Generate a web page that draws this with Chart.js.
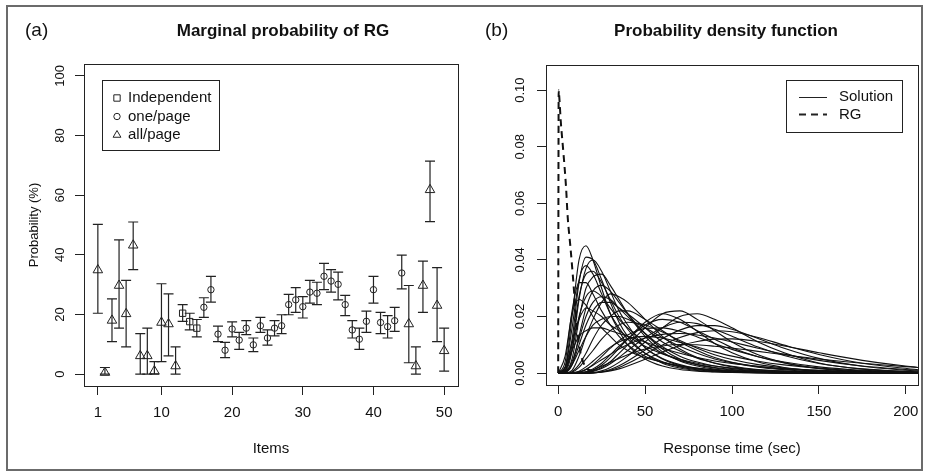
<!DOCTYPE html>
<html>
<head>
<meta charset="utf-8">
<script src="https://cdn.jsdelivr.net/npm/chart.js@4.4.1/dist/chart.umd.min.js"></script>
<style>
  body { margin: 0; background: #fff; }
  #page { position: relative; width: 929px; height: 474px; overflow: hidden; }
  #frame { position: absolute; left: 6px; top: 5px; width: 913px; height: 462px; border: 2px solid #6b6b6b; }
  canvas { position: absolute; top: 0; }
</style>
</head>
<body>
<div id="page">
  <div id="frame"></div>
  <canvas id="chartA" width="470" height="474" style="left:0"></canvas>
  <canvas id="chartB" width="459" height="474" style="left:470px"></canvas>
</div>
<script>
// ---- panel (a): marginal probability of RG per item ----
const itemTicks = [1, 10, 20, 30, 40, 50];
const probTicks = [0, 20, 40, 60, 80, 100];
// a = all/page, i = independent, o = one/page
const design = ('aaaaaaaaaaaa' + 'iii' + 'ooooooooooooooooooooooooooooo' + 'aaaaaa').split('');
const prob = [34.9, 0.5, 18, 29.7, 20.2, 43.2, 6.1, 6.1, 1, 17.3,
              16.8, 2.7, 20.4, 17.6, 15.4, 22.4, 28.3, 13.4, 8.0, 15.1,
              11.4, 15.4, 9.8, 16.2, 12.1, 15.4, 16.2, 23.3, 24.9, 22.6,
              27.5, 27.1, 32.8, 31.2, 30.1, 23.3, 14.8, 11.7, 17.7, 28.3,
              17.3, 15.9, 17.9, 33.9, 16.8, 2.7, 29.7, 61.8, 23, 7.8];
const lower = [20.4, 0, 10.9, 15.4, 9.1, 35, 0, 0, 0, 4.2,
               6.1, 0, 17.7, 14.8, 12.5, 19, 24.1, 10.9, 5.5, 12.5,
               8.3, 13.2, 7.5, 14, 9.7, 12.8, 13.6, 19.9, 20.7, 18.8,
               23.8, 23.3, 28.3, 27.5, 24.9, 19.6, 12.1, 8.3, 14, 23.8,
               13.6, 12.1, 14.3, 28.6, 3.8, 0, 20.7, 51.1, 10.9, 1];
const upper = [50.2, 2.2, 25.2, 45, 31.4, 51, 13.6, 15.4, 4.2, 30.3,
               26.9, 9.1, 23.3, 20.4, 18.3, 25.6, 32.8, 16.1, 10.6, 17.5,
               14, 17.9, 12.1, 19, 14.8, 17.9, 19.9, 26.7, 29, 26,
               31.4, 30.8, 37.1, 35, 34.2, 26.4, 17.9, 15.4, 21.1, 32.8,
               20.7, 19.6, 22.4, 39.9, 29.7, 9.1, 37.9, 71.4, 35.7, 15.4];
const items = prob.map((_, i) => i + 1);
const designLabels = ['Independent', 'one/page', 'all/page'];

// ---- panel (b): probability density functions ----
const timeTicks = [0, 50, 100, 150, 200];
const densTicks = [0, 0.02, 0.04, 0.06, 0.08, 0.10];
const timeGrid = [0, 4, 8, 12, 16, 20, 25, 30, 35, 40, 50, 60, 70, 80, 90, 100, 115, 130, 150, 175, 207];
const earlyCurves = [
  [0, 0.002, 0.020, 0.040, 0.045, 0.040, 0.030, 0.021, 0.015, 0.010, 0.005, 0.0025, 0.0013, 0.0007, 0.0004, 0.0002, 0.0001, 0, 0, 0, 0],
  [0, 0.001, 0.012, 0.032, 0.041, 0.040, 0.033, 0.025, 0.018, 0.013, 0.007, 0.0035, 0.0018, 0.0009, 0.0005, 0.0003, 0.0001, 0, 0, 0, 0],
  [0, 0.0005, 0.008, 0.026, 0.037, 0.040, 0.036, 0.029, 0.022, 0.017, 0.009, 0.005, 0.0027, 0.0015, 0.0008, 0.0004, 0.0002, 0.0001, 0, 0, 0],
  [0, 0.002, 0.016, 0.033, 0.038, 0.035, 0.028, 0.021, 0.016, 0.012, 0.007, 0.004, 0.0022, 0.0012, 0.0007, 0.0004, 0.0002, 0.0001, 0, 0, 0],
  [0, 0.0003, 0.005, 0.019, 0.030, 0.034, 0.035, 0.031, 0.026, 0.021, 0.013, 0.0075, 0.0043, 0.0025, 0.0014, 0.0008, 0.0004, 0.0002, 0.0001, 0, 0],
  [0, 0.004, 0.022, 0.032, 0.032, 0.028, 0.022, 0.017, 0.013, 0.010, 0.006, 0.0038, 0.0024, 0.0015, 0.001, 0.0006, 0.0003, 0.0002, 0.0001, 0, 0],
  [0, 0.0002, 0.003, 0.013, 0.023, 0.029, 0.031, 0.029, 0.025, 0.021, 0.014, 0.0085, 0.005, 0.003, 0.0018, 0.0011, 0.0005, 0.0003, 0.0001, 0, 0],
  [0, 0.001, 0.008, 0.020, 0.027, 0.029, 0.027, 0.023, 0.019, 0.016, 0.011, 0.007, 0.0045, 0.003, 0.002, 0.0013, 0.0007, 0.0004, 0.0002, 0.0001, 0],
  [0, 0.0001, 0.001, 0.006, 0.013, 0.019, 0.025, 0.028, 0.027, 0.025, 0.019, 0.013, 0.0085, 0.0055, 0.0035, 0.0022, 0.0011, 0.0006, 0.0002, 0.0001, 0],
  [0, 0.0003, 0.003, 0.010, 0.017, 0.022, 0.025, 0.025, 0.023, 0.021, 0.016, 0.011, 0.0078, 0.0053, 0.0036, 0.0024, 0.0013, 0.0007, 0.0003, 0.0001, 0],
  [0, 0.002, 0.011, 0.019, 0.023, 0.022, 0.020, 0.017, 0.015, 0.013, 0.0095, 0.0068, 0.0049, 0.0035, 0.0025, 0.0018, 0.0011, 0.0007, 0.0004, 0.0002, 0.0001],
  [0, 0, 0.0005, 0.003, 0.007, 0.012, 0.017, 0.020, 0.022, 0.022, 0.019, 0.015, 0.011, 0.008, 0.0055, 0.0038, 0.0021, 0.0012, 0.0005, 0.0002, 0.0001],
  [0, 0.0005, 0.003, 0.008, 0.013, 0.017, 0.019, 0.020, 0.020, 0.019, 0.016, 0.0125, 0.0095, 0.007, 0.005, 0.0037, 0.0023, 0.0014, 0.0007, 0.0003, 0.0001],
  [0, 0, 0.0003, 0.002, 0.005, 0.008, 0.012, 0.015, 0.017, 0.018, 0.017, 0.0145, 0.0115, 0.0088, 0.0065, 0.0048, 0.003, 0.0018, 0.0009, 0.0004, 0.0001],
  [0, 0.002, 0.008, 0.013, 0.015, 0.016, 0.016, 0.015, 0.014, 0.013, 0.011, 0.0088, 0.007, 0.0055, 0.0043, 0.0034, 0.0024, 0.0016, 0.001, 0.0005, 0.0002],
  [0, 0.006, 0.021, 0.026, 0.024, 0.020, 0.016, 0.013, 0.010, 0.008, 0.0055, 0.0038, 0.0026, 0.0018, 0.0012, 0.0008, 0.0004, 0.0002, 0.0001, 0, 0],
  [0, 0.0008, 0.010, 0.027, 0.035, 0.036, 0.032, 0.026, 0.020, 0.0155, 0.009, 0.0052, 0.003, 0.0017, 0.001, 0.0006, 0.0003, 0.0001, 0, 0, 0],
  [0, 0.0004, 0.004, 0.012, 0.020, 0.025, 0.027, 0.026, 0.023, 0.020, 0.014, 0.0093, 0.006, 0.0039, 0.0025, 0.0016, 0.0008, 0.0004, 0.0002, 0.0001, 0]
];
const lateCurves = [
  [0, 0, 0, 0, 0.0002, 0.0008, 0.002, 0.004, 0.007, 0.010, 0.016, 0.021, 0.022, 0.019, 0.015, 0.011, 0.0065, 0.0037, 0.0016, 0.0005, 0.0001],
  [0, 0, 0, 0, 0, 0.0002, 0.0008, 0.002, 0.0038, 0.006, 0.011, 0.016, 0.020, 0.021, 0.019, 0.016, 0.011, 0.0072, 0.0036, 0.0014, 0.0003],
  [0, 0, 0, 0.0001, 0.0005, 0.0015, 0.0035, 0.0065, 0.0095, 0.012, 0.017, 0.019, 0.018, 0.015, 0.012, 0.009, 0.0058, 0.0036, 0.0018, 0.0007, 0.0002],
  [0, 0, 0, 0, 0.0002, 0.0006, 0.0016, 0.0033, 0.0055, 0.008, 0.0125, 0.016, 0.018, 0.0175, 0.0155, 0.013, 0.0092, 0.0062, 0.0034, 0.0015, 0.0004],
  [0, 0, 0, 0, 0, 0.0001, 0.0005, 0.0013, 0.0026, 0.0043, 0.0082, 0.0122, 0.0152, 0.0168, 0.0168, 0.0155, 0.0122, 0.0088, 0.0052, 0.0024, 0.0007],
  [0, 0, 0, 0.0003, 0.0012, 0.003, 0.0058, 0.0088, 0.0115, 0.0135, 0.0158, 0.016, 0.0148, 0.0128, 0.0105, 0.0084, 0.0058, 0.0039, 0.0022, 0.001, 0.0003],
  [0, 0, 0, 0, 0, 0.0001, 0.0004, 0.001, 0.002, 0.0034, 0.0066, 0.0099, 0.0126, 0.0143, 0.015, 0.0146, 0.0126, 0.0099, 0.0066, 0.0035, 0.0012],
  [0, 0, 0.0001, 0.0005, 0.0014, 0.0028, 0.0047, 0.0066, 0.0085, 0.0101, 0.0124, 0.0137, 0.014, 0.0135, 0.0124, 0.011, 0.0088, 0.0067, 0.0045, 0.0025, 0.001],
  [0, 0, 0, 0, 0, 0.0001, 0.0003, 0.0008, 0.0015, 0.0025, 0.0049, 0.0075, 0.0097, 0.0112, 0.012, 0.0121, 0.0112, 0.0096, 0.0072, 0.0045, 0.002],
  [0, 0, 0.0001, 0.0007, 0.0022, 0.0042, 0.0068, 0.0092, 0.011, 0.0122, 0.013, 0.0124, 0.0109, 0.0092, 0.0075, 0.006, 0.0042, 0.0029, 0.0017, 0.0008, 0.0003],
  [0, 0, 0, 0.0001, 0.0005, 0.0012, 0.0024, 0.0038, 0.0052, 0.0065, 0.0085, 0.0096, 0.0101, 0.01, 0.0095, 0.0089, 0.0077, 0.0065, 0.005, 0.0035, 0.002],
  [0, 0, 0, 0, 0.0003, 0.001, 0.0028, 0.0055, 0.0088, 0.012, 0.018, 0.021, 0.019, 0.0148, 0.0105, 0.0072, 0.0039, 0.002, 0.0007, 0.0002, 0]
];
const rgTime = [0, 0.3, 0.6, 1.5, 3, 4.5, 5.5, 7, 8.5, 10, 12, 15, 20];
const rgDens = [0, 0.100, 0.098, 0.089, 0.078, 0.066, 0.055, 0.045, 0.034, 0.022, 0.010, 0.003, 0.0005];

const family = '"Liberation Sans", Arial, Helvetica, sans-serif';
const ink = '#222';

// frame around the plotting region
const boxPlugin = {
  id: 'box',
  afterDraw(chart) {
    const {ctx, chartArea: a} = chart;
    ctx.save();
    ctx.strokeStyle = ink;
    ctx.lineWidth = 1;
    ctx.strokeRect(Math.round(a.left) + 0.5, Math.round(a.top) + 0.5, Math.round(a.width), Math.round(a.height));
    ctx.restore();
  }
};

// panel label + bold main title
const panelText = {
  id: 'panelText',
  afterDraw(chart, args, opts) {
    const ctx = chart.ctx;
    ctx.save();
    ctx.fillStyle = '#111';
    ctx.textBaseline = 'middle';
    ctx.textAlign = 'left';
    ctx.font = '19px ' + family;
    ctx.fillText(opts.tag, opts.tagX, 31);
    ctx.textAlign = 'center';
    ctx.font = 'bold 17px ' + family;
    ctx.fillText(opts.title, opts.titleX, 31);
    ctx.restore();
  }
};

const errorBars = {
  id: 'errorBars',
  beforeDatasetsDraw(chart) {
    const {ctx, scales: {x, y}} = chart;
    ctx.save();
    ctx.strokeStyle = ink;
    ctx.lineWidth = 1.2;
    items.forEach((it, i) => {
      const px = x.getPixelForValue(it);
      const lo = y.getPixelForValue(lower[i]);
      const hi = y.getPixelForValue(upper[i]);
      ctx.beginPath();
      ctx.moveTo(px, lo); ctx.lineTo(px, hi);
      ctx.moveTo(px - 5, lo); ctx.lineTo(px + 5, lo);
      ctx.moveTo(px - 5, hi); ctx.lineTo(px + 5, hi);
      ctx.stroke();
    });
    ctx.restore();
  }
};

const legendA = {
  id: 'legendA',
  afterDraw(chart) {
    const ctx = chart.ctx;
    ctx.save();
    ctx.strokeStyle = ink;
    ctx.lineWidth = 1;
    ctx.strokeRect(102.5, 80.5, 117, 70);
    const styles = ['rect', 'circle', 'triangle'];
    const rads = [4.5, 3.2, 4.5];
    ctx.font = '15px ' + family;
    ctx.textBaseline = 'middle';
    designLabels.forEach((lab, k) => {
      const yy = 98 + k * 18.5;
      ctx.fillStyle = 'rgba(0,0,0,0)';
      Chart.helpers.drawPoint(ctx, {pointStyle: styles[k], radius: rads[k], borderWidth: 1}, 117, yy);
      ctx.fillStyle = '#111';
      ctx.fillText(lab, 128, yy);
    });
    ctx.restore();
  }
};

const legendB = {
  id: 'legendB',
  afterDraw(chart) {
    const ctx = chart.ctx;
    ctx.save();
    ctx.strokeStyle = ink;
    ctx.lineWidth = 1;
    ctx.strokeRect(316.5, 80.5, 116, 52);
    ctx.beginPath(); ctx.moveTo(329, 97.5); ctx.lineTo(357, 97.5); ctx.stroke();
    ctx.lineWidth = 2;
    ctx.setLineDash([7, 5]);
    ctx.beginPath(); ctx.moveTo(329, 114.5); ctx.lineTo(357, 114.5); ctx.stroke();
    ctx.setLineDash([]);
    ctx.font = '15px ' + family;
    ctx.fillStyle = '#111';
    ctx.textBaseline = 'middle';
    ctx.fillText('Solution', 369, 97);
    ctx.fillText('RG', 369, 115);
    ctx.restore();
  }
};

function fixedTicks(values) {
  return scale => { scale.ticks = values.map(v => ({value: v})); };
}

function xAxis(min, max, ticks, title, height) {
  return {
    type: 'linear', min, max,
    afterBuildTicks: fixedTicks(ticks),
    afterFit: s => { s.height = height; },
    grid: {drawOnChartArea: false, tickLength: 9, color: ink, lineWidth: 1},
    border: {display: false},
    ticks: {font: {size: 15, family}, color: '#111', padding: 9, maxRotation: 0},
    title: {display: true, text: title, font: {size: 15, family}, color: '#111', padding: {top: 0, bottom: 16}}
  };
}

function yAxis(min, max, ticks, width, fmt, title) {
  return {
    min, max,
    afterBuildTicks: fixedTicks(ticks),
    afterFit: s => { s.width = width; },
    grid: {drawOnChartArea: false, tickLength: 9, color: ink, lineWidth: 1},
    border: {display: false},
    ticks: {font: {size: 13, family}, color: '#111', padding: 4, minRotation: 90, maxRotation: 90,
            crossAlign: 'center', callback: fmt},
    title: {display: !!title, text: title || '', font: {size: 13, family}, color: '#111', padding: {top: 13}}
  };
}

function designSet(code, style, radius) {
  const pts = [];
  items.forEach((it, i) => { if (design[i] === code) pts.push({x: it, y: prob[i]}); });
  return {data: pts, pointStyle: style, radius, borderWidth: 1, borderColor: ink,
          backgroundColor: 'rgba(0,0,0,0)', showLine: false};
}

new Chart(document.getElementById('chartA'), {
  type: 'scatter',
  data: {
    datasets: [
      designSet('i', 'rect', 4.5),
      designSet('o', 'circle', 3.2),
      designSet('a', 'triangle', 5.5)
    ]
  },
  options: {
    responsive: false,
    animation: false,
    layout: {padding: {left: 14, right: 12, top: 64, bottom: 0}},
    plugins: {
      legend: {display: false},
      tooltip: {enabled: false},
      panelText: {tag: '(a)', tagX: 25, title: 'Marginal probability of RG', titleX: 283}
    },
    scales: {
      x: xAxis(-0.96, 51.96, itemTicks, 'Items', 88),
      y: yAxis(-4, 104, probTicks, 70, v => String(v), 'Probability (%)')
    }
  },
  plugins: [errorBars, boxPlugin, panelText, legendA]
});

function curveSet(vals) {
  return {data: timeGrid.map((t, i) => ({x: t, y: vals[i]})), borderColor: '#111', borderWidth: 1.1,
          pointRadius: 0, cubicInterpolationMode: 'monotone', fill: false};
}

new Chart(document.getElementById('chartB'), {
  type: 'line',
  data: {
    datasets: earlyCurves.map(curveSet).concat(lateCurves.map(curveSet)).concat([{
      data: rgTime.map((t, i) => ({x: t, y: rgDens[i]})), borderColor: '#111', borderWidth: 2,
      borderDash: [7, 5], pointRadius: 0, cubicInterpolationMode: 'monotone', fill: false
    }])
  },
  options: {
    responsive: false,
    animation: false,
    layout: {padding: {left: 26, right: 11, top: 65, bottom: 0}},
    plugins: {
      legend: {display: false},
      tooltip: {enabled: false},
      panelText: {tag: '(b)', tagX: 15, title: 'Probability density function', titleX: 256}
    },
    scales: {
      x: xAxis(-7, 207, timeTicks, 'Response time (sec)', 89),
      y: yAxis(-0.0042, 0.1089, densTicks, 50, v => v.toFixed(2), null)
    }
  },
  plugins: [boxPlugin, panelText, legendB]
});
</script>
</body>
</html>
